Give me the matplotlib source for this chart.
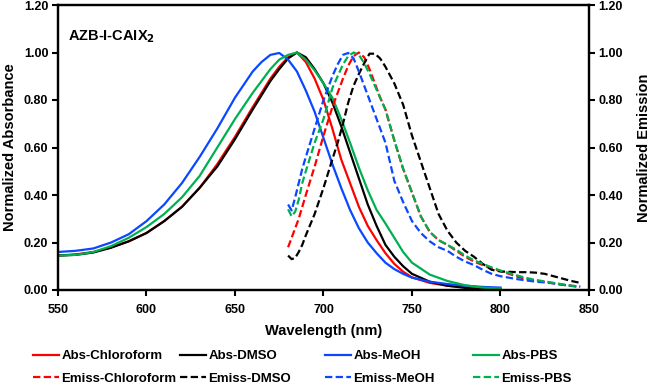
import numpy as np
import matplotlib
matplotlib.use('Agg')
import matplotlib.pyplot as plt

plt.rcParams['font.family'] = ['Liberation Sans', 'DejaVu Sans']
plt.rcParams['font.weight'] = 'bold'

# absorbance (left axis)
abs_wl = [550, 560, 570, 580, 590, 600, 610, 620, 630, 640, 650, 660, 665, 670,
          675, 680, 685, 690, 695, 700, 705, 710, 715, 720, 725, 730, 735, 740,
          745, 750, 760, 770, 780, 790, 800]
abs_chloroform = [.145, .15, .16, .18, .205, .24, .29, .35, .43, .53, .645, .77, .83, .89,
                  .94, .98, 1.0, .96, .89, .80, .68, .55, .45, .35, .27, .21, .155, .11,
                  .077, .053, .03, .018, .011, .007, .005]
abs_dmso = [.145, .148, .158, .178, .205, .24, .29, .35, .43, .52, .635, .76, .82, .88,
            .93, .975, 1.0, .98, .93, .87, .79, .69, .58, .47, .36, .27, .19, .14,
            .10, .068, .035, .018, .009, .005, .004]
abs_meoh = [.16, .165, .175, .20, .235, .29, .36, .45, .56, .68, .81, .92, .96, .99,
            .998, .97, .92, .84, .75, .64, .53, .43, .337, .26, .20, .155, .115, .088,
            .068, .052, .035, .025, .018, .013, .01]
abs_pbs = [.145, .148, .16, .185, .22, .265, .32, .39, .48, .60, .72, .83, .88, .93,
           .97, .99, 1.0, .97, .925, .87, .81, .72, .62, .515, .42, .337, .28, .22,
           .16, .115, .065, .038, .02, .01, .006]

# emission (right axis)
em_wl = [680, 682, 684, 686, 688, 690, 695, 700, 705, 708, 711, 714, 717, 720,
         723, 726, 729, 732, 735, 740, 745, 750, 755, 760, 765, 770, 775, 780,
         785, 790, 795, 800, 810, 815, 820, 825, 830, 835, 840, 845]
em_chloroform = [.18, .22, .26, .30, .35, .40, .52, .65, .77, .83, .89, .945, .985, 1.0,
                 .98, .93, .87, .81, .76, .63, .51, .41, .31, .245, .21, .19, .165, .14,
                 .12, .105, .09, .08, .055, .045, .04, .035, .028, .022, .018, .014]
em_dmso = [.145, .13, .135, .16, .19, .23, .32, .43, .55, .62, .70, .79, .86, .91,
           .955, .995, .995, .975, .94, .87, .78, .65, .54, .43, .32, .25, .20, .165,
           .14, .11, .085, .078, .075, .075, .073, .068, .058, .048, .038, .03]
em_meoh = [.36, .335, .39, .45, .51, .56, .68, .80, .90, .95, .99, .998, .975, .92,
           .86, .80, .74, .68, .62, .46, .37, .29, .24, .205, .18, .165, .14, .12,
           .105, .085, .068, .058, .045, .04, .035, .032, .028, .022, .017, .013]
em_pbs = [.34, .31, .33, .38, .45, .50, .62, .72, .85, .90, .95, .985, 1.0, .99,
          .955, .91, .86, .81, .76, .63, .51, .41, .31, .245, .21, .19, .17, .145,
          .125, .11, .095, .082, .06, .05, .042, .036, .03, .024, .018, .015]

solvents = ['Chloroform', 'DMSO', 'MeOH', 'PBS']
colors = ['#FF0000', '#000000', '#0A47FF', '#00B050']

fig = plt.figure(figsize=(6.5, 3.87), dpi=100)
ax = fig.add_axes([58 / 650, 1 - 290 / 387, 531 / 650, 285 / 387])
ax2 = ax.twinx()

dash = (0, (3.3, 1.5))
absLines, emLines = [], []
for name, c, a, e in zip(solvents, colors,
                         [abs_chloroform, abs_dmso, abs_meoh, abs_pbs],
                         [em_chloroform, em_dmso, em_meoh, em_pbs]):
    l1, = ax.plot(abs_wl, a, color=c, lw=1.6, label='Abs-' + name)
    l2, = ax2.plot(em_wl, e, color=c, lw=1.6, ls=dash, label='Emiss-' + name)
    absLines.append(l1)
    emLines.append(l2)

for a in (ax, ax2):
    a.set_xlim(550, 850)
    a.set_ylim(0, 1.2)
    a.set_yticks(np.arange(0, 1.21, 0.2))
    a.yaxis.set_major_formatter(matplotlib.ticker.FormatStrFormatter('%.2f'))
    a.tick_params(direction='out', length=4, width=1.5, labelsize=9, pad=3)
    for s in a.spines.values():
        s.set_linewidth(1.6)
ax.set_xticks(range(550, 851, 50))
ax.tick_params(axis='x', pad=6)

ax.set_xlabel('Wavelength (nm)', fontsize=10.5, fontweight='bold', labelpad=6)
ax.set_ylabel('Normalized Absorbance', fontsize=10.5, fontweight='bold', labelpad=5)
ax2.set_ylabel('Normalized Emission', fontsize=10.5, fontweight='bold', labelpad=10)
ax.text(0.019, 0.888, r'AZB-I-CAIX$_\mathbf{2}$', transform=ax.transAxes,
        fontsize=10.5, fontweight='bold', va='center')

# one legend per column so columns sit at fixed spots like the original
colX = [33, 180, 325, 473]
for x, l1, l2 in zip(colX, absLines, emLines):
    fig.legend([l1, l2], [l1.get_label(), l2.get_label()], loc='upper left',
               bbox_to_anchor=(x / 650, 1 - 350 / 387), frameon=False,
               fontsize=9.5, handlelength=2.0, handletextpad=0.15,
               labelspacing=0.8, borderpad=0, borderaxespad=0)

fig.savefig('out.png', dpi=100)
